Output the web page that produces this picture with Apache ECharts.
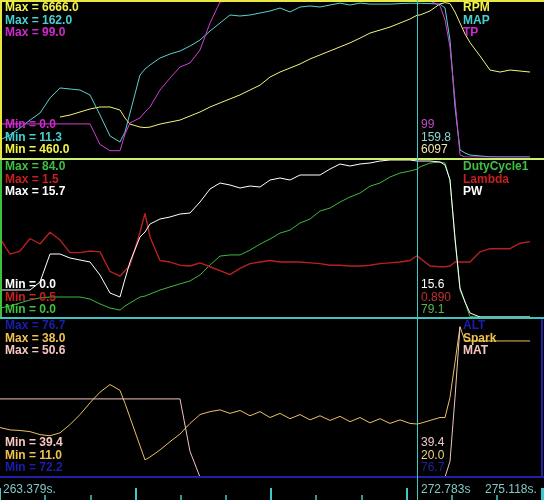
<!DOCTYPE html>
<html>
<head>
<meta charset="utf-8">
<script src="https://cdn.jsdelivr.net/npm/echarts@6/dist/echarts.min.js"></script>
<style>
  html, body { margin: 0; padding: 0; background: #000; }
  #chart { width: 544px; height: 500px; }
</style>
</head>
<body>
<div id="chart"></div>
<script>
// log samples, seconds
const times = [263.379, 263.605, 263.830, 264.056, 264.281, 264.507, 264.732, 264.958, 265.183, 265.409,
  265.634, 265.860, 266.085, 266.198, 266.311, 266.536, 266.649, 266.762, 266.987, 267.213,
  267.438, 267.664, 267.889, 268.115, 268.340, 268.566, 268.791, 269.017, 269.243, 269.468,
  269.694, 269.919, 270.145, 270.370, 270.596, 270.821, 271.047, 271.272, 271.498, 271.723,
  271.949, 272.174, 272.400, 272.625, 272.783, 272.851, 273.076, 273.302, 273.415, 273.527,
  273.640, 273.753, 273.866, 273.978, 274.204, 274.429, 274.655, 274.881, 275.106, 275.332];

const rpm = [null, null, null, null, null, null, 2050, 2130, 2250, 2370,
  2450, 2450, 2330, 2010, 1770, 1650, 1630, 1650, 1770, 1850,
  1930, 2090, 2250, 2450, 2610, 2770, 2930, 3125, 3320, 3640,
  3840, 4000, 4160, 4360, 4520, 4680, 4840, 5000, 5190, 5390,
  5510, 5630, 5790, 5950, 6097, 6110, 6270, 6550, 6600, 6566,
  6228, 5790, 5353, 5015, 4480, 3920, 3840, 3920, 3880, 3840];
const map = [27.7, 32.6, 39.3, 47.0, 53.8, 68.3, 78.0, 77.0, 76.0, 71.2,
  51.9, 31.6, 25.8, 35.4, 53.8, 90.5, 96.3, 100.2, 106.9, 110.8,
  113.7, 118.5, 124.3, 133.0, 140.7, 148.5, 147.5, 148.5, 150.4, 152.3,
  155.2, 151.4, 156.2, 157.2, 156.2, 158.1, 160.0, 158.1, 160.0, 159.0,
  159.0, 159.0, 159.5, 159.8, 159.8, 159.8, 159.5, 159.0, 155.2, 124.3,
  59.6, 18.1, 15.2, 13.2, 12.3, 11.5, 11.3, 11.3, 11.3, 11.3];
const tp = [21, 21, 21, 21, 21, 21, 21, 21, 21, 21,
  8, 4, 4, 14.6, 21.6, 24.8, 28.6, 31.7, 42.5, 50.1,
  57.1, 59.7, 67.9, 85, 98.4, 99, 99, 99, 99, 99,
  99, 99, 99, 99, 99, 99, 99, 99, 99, 99,
  99, 99, 99, 99, 99, 99, 99, 96, 87, 69.8,
  36.2, 1.3, 0, 0, 0, 0, 0, 0, 0, 0];

const duty = [4.8, 5.9, 7.5, 9.1, 10.2, 10.7, 10.7, 10.7, 10.7, 9.6,
  7.0, 4.8, 3.7, 5.9, 7.5, 10.7, 11.2, 12.3, 14.4, 16.1,
  17.7, 19.3, 22.5, 27.8, 32.6, 33.2, 33.2, 35.8, 39.0, 41.7,
  44.9, 46.5, 50.3, 52.4, 56.7, 58.3, 61.5, 64.2, 66.3, 70.0,
  71.7, 74.9, 77.0, 78.1, 79.1, 80.3, 82.4, 82.9, 82.4, 73.3,
  41.2, 14.4, 8.0, 0.2, 0, 0, 0, 0, 0, 0];
const lambda = [1.00, 0.90, 0.92, 1.00, 0.965, 1.04, 0.99, 0.91, 0.91, 0.92,
  0.915, 0.79, 0.76, 0.795, 0.83, 1.04, 1.16, 1.01, 0.86, 0.85,
  0.83, 0.825, 0.845, 0.82, 0.795, 0.77, 0.81, 0.84, 0.85, 0.86,
  0.85, 0.85, 0.85, 0.845, 0.84, 0.83, 0.83, 0.825, 0.825, 0.83,
  0.84, 0.845, 0.85, 0.86, 0.89, 0.875, 0.825, 0.82, 0.82, 0.825,
  0.85, 0.85, 0.85, 0.85, 0.915, 0.935, 0.935, 0.935, 0.97, 0.98];
const pw = [2.7, 2.7, 2.7, 2.7, 3.5, 6.3, 6.3, 5.9, 5.7, 5.5,
  4.2, 2.4, 2.0, 3.8, 5.5, 8.0, 8.5, 9.3, 9.8, 10.0,
  10.3, 10.4, 11.5, 12.8, 13.4, 13.2, 12.9, 13.1, 13.0, 13.7,
  13.9, 13.7, 14.2, 14.2, 14.2, 14.8, 15.3, 15.1, 15.3, 15.4,
  15.6, 15.7, 15.7, 15.7, 15.6, 15.6, 15.6, 15.5, 15.2, 13.7,
  7.9, 2.9, 1.5, 0.4, 0, 0, 0, 0, 0, 0];

const alt = [76.7, 76.7, 76.7, 76.7, 76.7, 76.7, 76.7, 76.7, 76.7, 76.7,
  76.7, 76.7, 76.7, 76.7, 76.7, 76.7, 76.7, 76.7, 76.7, 76.7,
  76.7, 76.7, 76.7, 76.7, 76.7, 76.7, 76.7, 76.7, 76.7, 76.7,
  76.7, 76.7, 76.7, 76.7, 76.7, 76.7, 76.7, 76.7, 76.7, 76.7,
  76.7, 76.7, 76.7, 76.7, 76.7, 76.7, 76.7, 76.7, 76.7, 76.7,
  76.7, 76.7, 76.7, 76.7, 76.7, 76.7, 76.7, 76.7, 76.7, 76.7];
const spark = [19.4, 19.0, 18.9, 18.7, 18.2, 18.0, 18.5, 19.9, 21.6, 23.6,
  25.4, 26.7, 25.7, 23.5, 21.1, 16.3, 13.9, 14.4, 15.6, 17.0,
  18.3, 20.1, 21.6, 22.1, 22.4, 21.8, 22.3, 21.4, 22.1, 21.1,
  21.8, 20.9, 21.6, 20.7, 21.4, 20.6, 21.3, 20.4, 21.1, 20.2,
  20.9, 20.1, 20.7, 20.1, 20.0, 20.1, 20.6, 21.1, 21.1, 24.5,
  30.5, 36.5, 34.1, 34.1, 34.1, 34.1, 34.1, 34.1, 34.1, 34.1];
const mat = [44.9, 44.9, 44.9, 44.9, 44.9, 44.9, 44.9, 44.9, 44.9, 44.9,
  44.9, 44.9, 44.9, 44.9, 44.9, 44.9, 44.9, 44.9, 44.9, 44.9,
  44.9, 41.2, 39.4, 39.4, 39.4, 39.4, 39.4, 39.4, 39.4, 39.4,
  39.4, 39.4, 39.4, 39.4, 39.4, 39.4, 39.4, 39.4, 39.4, 39.4,
  39.4, 39.4, 39.4, 39.4, 39.4, 39.4, 39.4, 39.4, 39.4, 40.5,
  45.0, 50.0, null, null, null, null, null, null, null, null];

const names = ['RPM', 'MAP', 'TP', 'DutyCycle1', 'Lambda', 'PW', 'ALT', 'Spark', 'MAT'];
const mins = [460.0, 11.3, 0.0, 0.0, 0.5, 0.0, 72.2, 11.0, 39.4];
const maxs = [6666.0, 162.0, 99.0, 84.0, 1.5, 15.7, 76.7, 38.0, 50.6];
const cursorVals = ['6097', '159.8', '99', '79.1', '0.890', '15.6', '76.7', '20.0', '39.4'];
const cursorTime = 272.783;
const timeLabels = ['263.379s.', '272.783s', '275.118s.'];

const allData = [rpm, map, tp, duty, lambda, pw, alt, spark, mat];

// styles
const lineColors = ['#f4f47a', '#5cd0d0', '#d040d0', '#40b840', '#b82020', '#ffffff', '#2020b0', '#e8c060', '#f0c4bc'];
const textColors = ['#f4f448', '#48d0d0', '#d028d0', '#40c040', '#c82020', '#ffffff', '#1c1cb0', '#f0c050', '#f6c6c0'];
const readColors = ['#f0e8b0', '#90d4d4', '#c050c0', '#58b858', '#c03030', '#ffffff', '#2020a0', '#f0d080', '#f0c8c8'];

const tMin = 263.379, tMax = 275.647;
const panels = [
  { top: 1, height: 156, y0: 0, y1: 158 },
  { top: 160, height: 157, y0: 159, y1: 318 },
  { top: 318, height: 159, y0: 318, y1: 476 }
];
const W = 544;
const pxOf = t => (t - tMin) / (tMax - tMin) * W;
const cursorX = Math.round(pxOf(cursorTime));

const bold = 'bold 12px "Liberation Sans", Arial, sans-serif';
const plain = '12px "Liberation Sans", Arial, sans-serif';
const cyan = '#40c8c8';

const chart = echarts.init(document.getElementById('chart'));

const grid = panels.map(p => ({ left: 0, right: 0, top: p.top, height: p.height }));
grid.push({ left: 0, right: 0, top: 478, height: 22 });

const xAxis = panels.map((p, i) => ({
  type: 'value', gridIndex: i, min: tMin, max: tMax, show: false
}));
xAxis.push({
  type: 'value', gridIndex: 3, min: tMin, max: tMax, position: 'bottom',
  interval: 3.0558,
  axisLine: { show: false },
  axisLabel: { show: false },
  splitLine: { show: false },
  axisTick: { show: true, inside: true, length: 12, lineStyle: { color: cyan, width: 2 } },
  minorTick: { show: true, splitNumber: 3, length: 5, lineStyle: { color: cyan, width: 1.5 } },
  minorSplitLine: { show: false }
});

const yAxis = names.map((n, i) => ({
  type: 'value', gridIndex: Math.floor(i / 3), min: mins[i], max: maxs[i], show: false
}));
yAxis.push({ type: 'value', gridIndex: 3, show: false });

const series = names.map((n, i) => ({
  name: n,
  type: 'line',
  xAxisIndex: Math.floor(i / 3),
  yAxisIndex: i,
  data: times.map((t, k) => [t, allData[i][k]]),
  symbol: 'none',
  connectNulls: false,
  lineStyle: { color: lineColors[i], width: i === 4 ? 1.4 : 1 },
  z: i === 6 ? 1 : 2
}));

const graphic = [];
// frame lines
graphic.push({ type: 'rect', z: 50, shape: { x: 0, y: 0, width: W, height: 2 }, style: { fill: '#e8e840' } });
graphic.push({ type: 'rect', z: 50, shape: { x: 0, y: 0, width: 2, height: 158 }, style: { fill: '#e8e840' } });
graphic.push({ type: 'rect', z: 50, shape: { x: 0, y: 158, width: W, height: 2 }, style: { fill: '#cef070' } });
graphic.push({ type: 'rect', z: 50, shape: { x: 0, y: 160, width: 2, height: 157 }, style: { fill: '#40c040' } });
graphic.push({ type: 'rect', z: 50, shape: { x: 0, y: 317, width: W, height: 2 }, style: { fill: '#40c4c4' } });
graphic.push({ type: 'rect', z: 50, shape: { x: 0, y: 476, width: W, height: 2 }, style: { fill: '#2020a8' } });
graphic.push({ type: 'rect', z: 50, shape: { x: 541, y: 319, width: 2, height: 158 }, style: { fill: '#2020a8' } });

// cursor
graphic.push({
  type: 'rect', z: 60,
  shape: { x: cursorX, y: 0, width: 1, height: 500 },
  style: { fill: cyan }
});

function addText(text, x, y, color, font) {
  graphic.push({
    type: 'text', z: 70, x: x, y: y,
    style: { text: text, fill: color, font: font, align: 'left', verticalAlign: 'middle' }
  });
}

panels.forEach((p, pi) => {
  const topRows = [p.y0 + 8, p.y0 + 20.5, p.y0 + 33];
  const botRows = [p.y1 - 33, p.y1 - 20.5, p.y1 - 8];
  for (let j = 0; j < 3; j++) {
    const i = pi * 3 + j;
    addText('Max = ' + maxs[i].toFixed(1), 5, topRows[j], textColors[i], bold);
    addText(names[i], 463, topRows[j], textColors[i], bold);
    const k = pi * 3 + (2 - j);
    addText('Min = ' + mins[k].toFixed(1), 5, botRows[j], textColors[k], bold);
    addText(cursorVals[k], cursorX + 4, botRows[j], readColors[k], plain);
  }
});

// time strip
addText(timeLabels[0], 3, 490, '#80c8c8', plain);
addText(timeLabels[1], cursorX + 4, 490, '#80c8c8', plain);
addText(timeLabels[2], 485, 490, '#80c8c8', plain);

chart.setOption({
  backgroundColor: '#000000',
  animation: false,
  grid: grid,
  xAxis: xAxis,
  yAxis: yAxis,
  series: series,
  graphic: graphic
});
</script>
</body>
</html>
